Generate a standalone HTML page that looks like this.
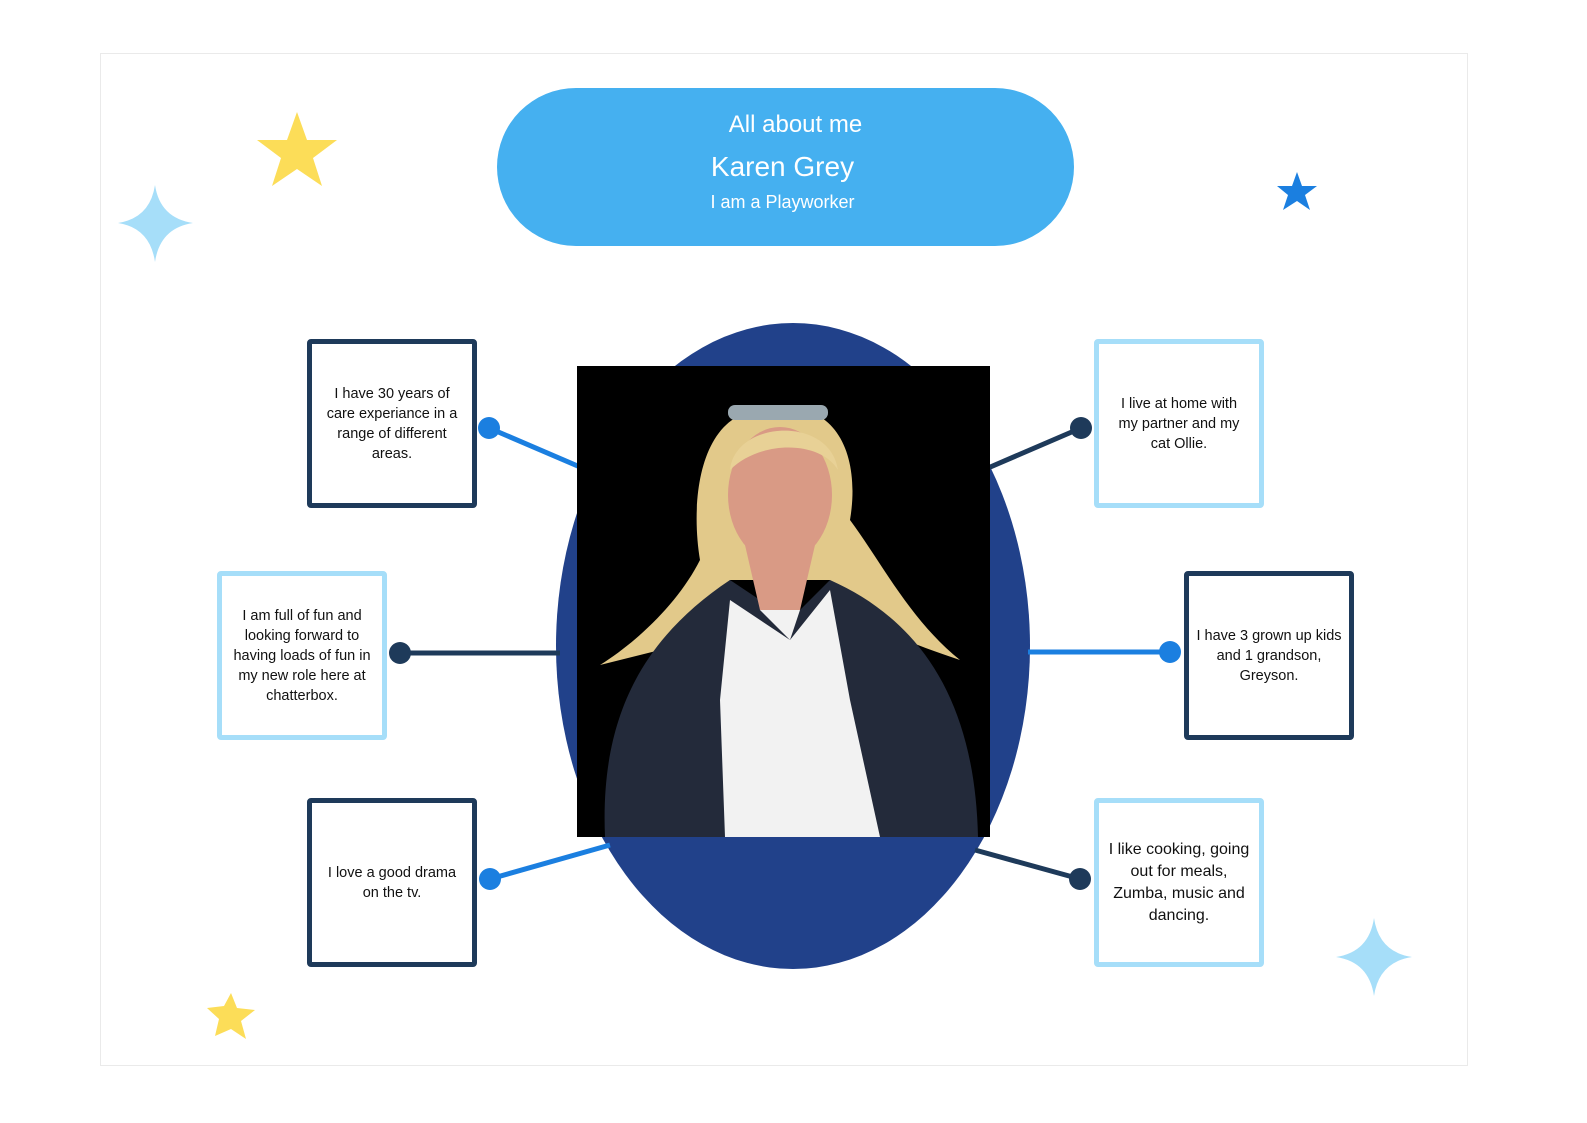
<!DOCTYPE html>
<html><head><meta charset="utf-8"><style>
body{margin:0;width:1587px;height:1123px;background:#fff;position:relative;overflow:hidden;font-family:"Liberation Sans",sans-serif}
.frame{position:absolute;left:100px;top:53px;width:1366px;height:1011px;border:1px solid #eaeaea}
.pill{position:absolute;left:497px;top:88px;width:577px;height:158px;border-radius:79px;background:#45b0f0;color:#fff;text-align:center}
.box{position:absolute;width:160px;height:159px;border:5px solid #1e3a5a;border-radius:4px;background:#fff;display:flex;align-items:center;justify-content:center;text-align:center;font-size:14.5px;line-height:20px;color:#111;box-sizing:content-box}
.box span{display:block}
.lt{border-color:#a6def9}
</style></head><body>
<div class="frame"></div>
<svg width="1587" height="1123" style="position:absolute;left:0;top:0">
<ellipse cx="793" cy="646" rx="237" ry="323" fill="#21418a"/>
<g stroke-width="5">
<line x1="489" y1="428" x2="580" y2="467" stroke="#1b7fe0"/>
<line x1="400" y1="653" x2="560" y2="653" stroke="#1e3a5a"/>
<line x1="490" y1="879" x2="610" y2="845" stroke="#1b7fe0"/>
<line x1="1081" y1="428" x2="988" y2="468" stroke="#1e3a5a"/>
<line x1="1170" y1="652" x2="1028" y2="652" stroke="#1b7fe0"/>
<line x1="1080" y1="879" x2="975" y2="850" stroke="#1e3a5a"/>
</g>
<circle cx="489" cy="428" r="11" fill="#1b7fe0"/>
<circle cx="400" cy="653" r="11" fill="#1e3a5a"/>
<circle cx="490" cy="879" r="11" fill="#1b7fe0"/>
<circle cx="1081" cy="428" r="11" fill="#1e3a5a"/>
<circle cx="1170" cy="652" r="11" fill="#1b7fe0"/>
<circle cx="1080" cy="879" r="11" fill="#1e3a5a"/>
<rect x="577" y="366" width="413" height="471" fill="#000"/>
<path d="M760 410 C700 415 690 500 700 560 C680 600 640 640 600 665 L660 650 C700 620 720 600 730 580 L830 580 C850 620 900 640 960 660 C910 620 880 560 850 520 C860 460 840 410 790 408 Z" fill="#e2c98a"/>
<path d="M605 837 C600 720 640 640 730 580 L760 600 L790 620 L830 580 C920 620 975 700 978 837 Z" fill="#232a3a"/>
<path d="M730 600 L790 640 L830 590 L850 700 L880 837 L725 837 L720 700 Z" fill="#f2f2f2"/>
<ellipse cx="780" cy="495" rx="52" ry="68" fill="#d99a85"/>
<path d="M730 470 C735 420 830 415 838 470 C820 440 760 440 730 470 Z" fill="#e8d196"/>
<rect x="728" y="405" width="100" height="15" rx="7" fill="#9aa8b0"/>
<path d="M745 545 L760 610 L800 610 L815 545 Z" fill="#d99a85"/>
<path d="M760 610 L790 640 L800 610 Z" fill="#f2f2f2"/>
<polygon points="297,112 307,140 337,140 313,158 322,186 297,169 272,186 281,158 257,140 287,140" fill="#fcdd58"/>
<polygon points="231,993 237,1008 255,1010 241,1021 246,1039 231,1029 215,1036 219,1019 207,1008 224,1006" fill="#fcdd58"/>
<polygon points="1297,172 1302,186 1317,186 1305,195 1310,210 1297,201 1283,210 1288,195 1277,186 1292,186" fill="#1b7fe0"/>
<path d="M155 185 Q160 218 193 223 Q160 228 155 262 Q150 228 118 223 Q150 218 155 185Z" fill="#a6def9"/>
<path d="M1374 918 Q1379 952 1412 957 Q1379 962 1374 996 Q1369 962 1336 957 Q1369 952 1374 918Z" fill="#a6def9"/>
</svg>
<div class="pill">
<div style="position:absolute;top:23px;width:100%;font-size:24px;left:10px">All about me</div>
<div style="position:absolute;top:63px;width:100%;font-size:28px;left:-3px">Karen Grey</div>
<div style="position:absolute;top:104px;width:100%;font-size:18px;left:-3px">I am a Playworker</div>
</div>
<div class="box" style="left:307px;top:339px"><span>I have 30 years of<br>care experiance in a<br>range of different<br>areas.</span></div>
<div class="box lt" style="left:217px;top:571px"><span>I am full of fun and<br>looking forward to<br>having loads of fun in<br>my new role here at<br>chatterbox.</span></div>
<div class="box" style="left:307px;top:798px"><span>I love a good drama<br>on the tv.</span></div>
<div class="box lt" style="left:1094px;top:339px"><span>I live at home with<br>my partner and my<br>cat Ollie.</span></div>
<div class="box" style="left:1184px;top:571px"><span>I have 3 grown up kids<br>and 1 grandson,<br>Greyson.</span></div>
<div class="box lt" style="left:1094px;top:798px;font-size:16px;line-height:22px"><span>I like cooking, going<br>out for meals,<br>Zumba, music and<br>dancing.</span></div>
</body></html>
